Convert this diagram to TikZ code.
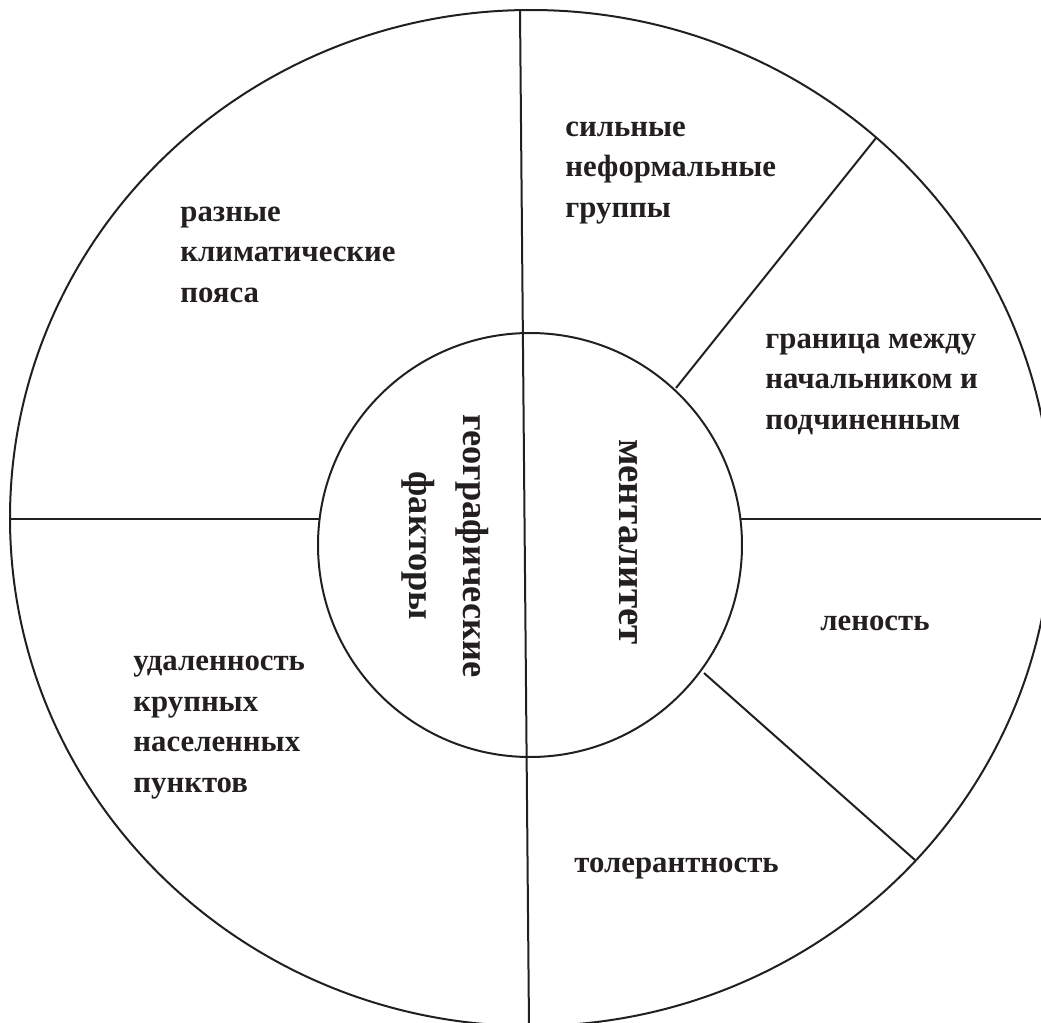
\documentclass[tikz,border=0pt]{standalone}
\usepackage{fontspec}
\setmainfont{Liberation Serif}
\usetikzlibrary{shapes.geometric}
\definecolor{ink}{HTML}{231F20}
\begin{document}
\begin{tikzpicture}[x=0.5pt,y=-0.5pt,
  ringline/.style={draw=ink, line width=1pt},
  spoke/.style={draw=ink, line width=1pt},
  lbl/.style={font=\bfseries\fontsize{15.4}{20.25}\selectfont, text=ink, align=left, anchor=base west, inner sep=0pt},
  geo/.style={font=\bfseries\fontsize{18.2}{27}\selectfont, text=ink, align=center, rotate=-90, inner sep=0pt},
  ment/.style={font=\bfseries\fontsize{19.5}{24}\selectfont, text=ink, rotate=-90, inner sep=0pt}]
\useasboundingbox (0,0) rectangle (1041,1023);
\clip (0,0) rectangle (1041,1023);
% rings
\node[ellipse, ringline, minimum width=521pt, minimum height=508pt, inner sep=0pt] (rim) at (531,518) {};
\node[circle, ringline, minimum size=212pt, inner sep=0pt] (core) at (530,545) {};
% spoke end points
\coordinate (vtop) at (520,10);
\coordinate (vbot) at (529,1026);
\coordinate (lout) at (10,519);
\coordinate (lin) at (319,519);
\coordinate (rin) at (741,519);
\coordinate (rout) at (1052,519);
\coordinate (uin) at (676,388);
\coordinate (uout) at (876,138);
\coordinate (din) at (704,673);
\coordinate (dout) at (915,860);
% spokes
\draw[spoke] (vtop) -- (vbot);
\draw[spoke] (lout) -- (lin);
\draw[spoke] (rin) -- (rout);
\draw[spoke] (uin) -- (uout);
\draw[spoke] (din) -- (dout);
% labels (base anchor = baseline of the last line)
\node[lbl] (climate) at (180,302) {разные\\климатические\\пояса};
\node[lbl] (groups) at (565,217) {сильные\\неформальные\\группы};
\node[lbl] (border) at (765,429) {граница между\\начальником и\\подчиненным};
\node[lbl] (lazy) at (820,630) {леность};
\node[lbl] (remote) at (133,792) {удаленность\\крупных\\населенных\\пунктов};
\node[lbl] (toler) at (574,872) {толерантность};
\node[geo] (geofac) at (445,546) {географические\\факторы};
\node[ment] (mental) at (628,542) {менталитет};
\end{tikzpicture}
\end{document}
